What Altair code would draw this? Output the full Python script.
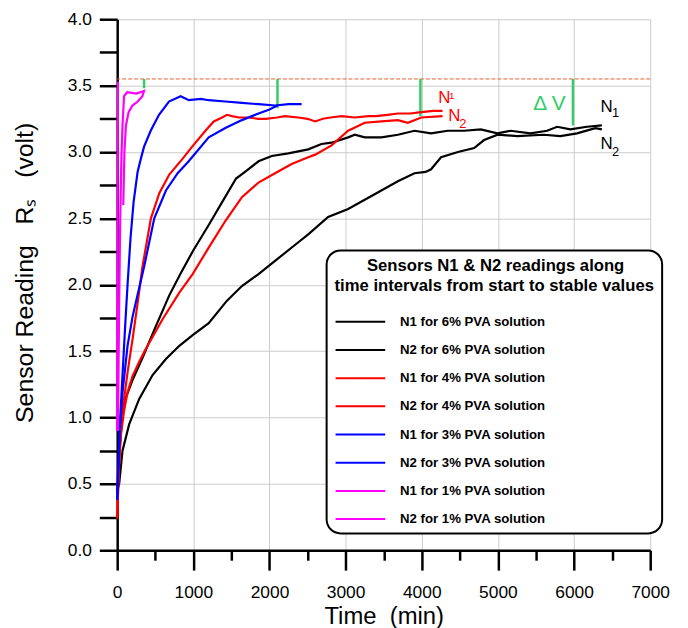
import altair as alt
import pandas as pd

# ---------------- data: time (min) vs sensor reading (volt) ----------------
n1_6_t = [0, 18, 30, 48, 80, 114, 200, 333, 487, 684, 838, 991, 1202, 1386, 1561, 1700, 1856, 2030, 2247, 2509, 2683,
          2815, 3033, 3120, 3251, 3469, 3686, 3904, 4122, 4340, 4558, 4775, 4993, 5167, 5428, 5646, 5777, 5951, 6169, 6365]
n1_6_v = [0.45, 0.50, 0.75, 0.90, 1.05, 1.15, 1.28, 1.45, 1.66, 1.92, 2.09, 2.25, 2.45, 2.63, 2.80, 2.86, 2.93, 2.97, 2.99, 3.02, 3.06,
          3.07, 3.11, 3.13, 3.11, 3.11, 3.13, 3.16, 3.14, 3.16, 3.16, 3.17, 3.14, 3.16, 3.14, 3.16, 3.19, 3.17, 3.19, 3.20]

n2_6_t = [0, 26, 70, 158, 289, 465, 640, 816, 991, 1202, 1442, 1638, 1856, 2073, 2379, 2509, 2770, 3033, 3251, 3469,
          3686, 3904, 4050, 4122, 4253, 4475, 4688, 4818, 4997, 5254, 5602, 5820, 6038, 6278, 6365]
n2_6_v = [0.45, 0.50, 0.75, 0.95, 1.14, 1.32, 1.44, 1.54, 1.62, 1.71, 1.88, 1.99, 2.08, 2.18, 2.32, 2.38, 2.51, 2.57, 2.64, 2.71,
          2.78, 2.84, 2.85, 2.87, 2.96, 3.00, 3.03, 3.09, 3.13, 3.12, 3.13, 3.12, 3.14, 3.18, 3.17]

n1_4_t = [0, 26, 70, 136, 202, 268, 333, 443, 553, 684, 860, 985, 1159, 1268, 1377, 1442, 1507, 1600, 1725, 1850,
          1950, 2100, 2200, 2379, 2500, 2600, 2700, 2800, 2950, 3120, 3300, 3400, 3550, 3686, 3850, 3993, 4150, 4272]
n1_4_v = [0.24, 0.70, 1.05, 1.34, 1.59, 1.86, 2.14, 2.50, 2.69, 2.83, 2.95, 3.04, 3.16, 3.23, 3.26, 3.28, 3.27, 3.26, 3.26, 3.25,
          3.25, 3.26, 3.27, 3.26, 3.25, 3.23, 3.25, 3.26, 3.27, 3.26, 3.27, 3.27, 3.28, 3.29, 3.29, 3.30, 3.31, 3.31]

n2_4_t = [0, 15, 45, 90, 136, 200, 289, 370, 596, 816, 991, 1202, 1420, 1638, 1856, 2073, 2291, 2509, 2600, 2815,
          3033, 3251, 3469, 3686, 3817, 3993, 4272]
n2_4_v = [0.24, 0.50, 0.85, 1.05, 1.19, 1.31, 1.42, 1.51, 1.74, 1.94, 2.08, 2.28, 2.48, 2.66, 2.77, 2.84, 2.91, 2.96, 2.98, 3.05,
          3.16, 3.22, 3.23, 3.24, 3.22, 3.26, 3.27]

n1_3_t = [0, 9, 35, 70, 105, 136, 175, 215, 268, 311, 353, 440, 549, 680, 833, 941, 1100, 1202, 1420, 1638, 1856, 2073, 2250, 2422]
n1_3_v = [0.38, 0.57, 0.95, 1.32, 1.69, 2.00, 2.35, 2.62, 2.85, 2.95, 3.04, 3.16, 3.28, 3.38, 3.42, 3.39, 3.40, 3.39, 3.38, 3.37,
          3.36, 3.35, 3.36, 3.36]

n2_3_t = [0, 35, 70, 136, 202, 246, 355, 487, 640, 794, 939, 1202, 1420, 1638, 1856, 2000, 2105]
n2_3_v = [0.38, 0.90, 1.19, 1.54, 1.76, 1.87, 2.14, 2.50, 2.71, 2.84, 2.93, 3.11, 3.18, 3.24, 3.29, 3.32, 3.35]

n1_1_t = [0, 4, 7, 10]
n1_1_v = [0.90, 2.00, 3.00, 3.53]

n2_1_t = [10, 25, 40, 55, 70, 90, 130, 250, 353, 330, 270, 200, 150, 115, 95, 80]
n2_1_v = [0.90, 1.80, 2.50, 2.95, 3.20, 3.42, 3.45, 3.44, 3.46, 3.42, 3.38, 3.35, 3.30, 3.20, 3.00, 2.60]

series_labels = ["N1 for 6% PVA solution", "N2 for 6% PVA solution",
                 "N1 for 4% PVA solution", "N2 for 4% PVA solution",
                 "N1 for 3% PVA solution", "N2 for 3% PVA solution",
                 "N1 for 1% PVA solution", "N2 for 1% PVA solution"]
series_colors = ["#000000", "#000000", "#ff0000", "#ff0000", "#0000ff", "#0000ff", "#ff00ff", "#ff00ff"]
series_t = [n1_6_t, n2_6_t, n1_4_t, n2_4_t, n1_3_t, n2_3_t, n1_1_t, n2_1_t]
series_v = [n1_6_v, n2_6_v, n1_4_v, n2_4_v, n1_3_v, n2_3_v, n1_1_v, n2_1_v]

legend_title = ["Sensors N1 & N2 readings along", "time intervals from start to stable values"]

# reference level (dashed) and delta-V markers
ref_level = [3.55]
dv_t = [353, 2105, 3982, 5985]
dv_low = [3.48, 3.33, 3.27, 3.20]

# annotations
red_txt = ["N", "1", "N", "2"]
red_txt_t = [4296, 4394, 4427, 4538]
red_txt_v = [3.41, 3.42, 3.27, 3.21]
red_txt_size = [17, 10, 17, 13]

blk_txt = ["N", "1", "N", "2"]
blk_txt_t = [6427, 6544, 6427, 6544]
blk_txt_v = [3.34, 3.29, 3.06, 3.00]
blk_txt_size = [17, 13, 17, 13]

dv_txt = ["Δ V"]
dv_txt_t = [5676]
dv_txt_v = [3.36]

x_ticks = [i * 500 for i in range(15)]
y_ticks = [i * 0.25 for i in range(17)]

# ---------------- build tables ----------------
rows = []
for lab, ts, vs in zip(series_labels, series_t, series_v):
    for i, (t, v) in enumerate(zip(ts, vs)):
        rows.append({"series": lab, "t": t, "v": v, "idx": i})
df_lines = pd.DataFrame(rows)
df_ref = pd.DataFrame({"v": ref_level})
df_dv = pd.DataFrame({"t": dv_t, "v": dv_low, "v2": [ref_level[0]] * len(dv_t)})
df_red = pd.DataFrame({"txt": red_txt, "t": red_txt_t, "v": red_txt_v, "s": red_txt_size})
df_blk = pd.DataFrame({"txt": blk_txt, "t": blk_txt_t, "v": blk_txt_v, "s": blk_txt_size})
df_dvt = pd.DataFrame({"txt": dv_txt, "t": dv_txt_t, "v": dv_txt_v})

FONT = "Liberation Sans"
NB = "\u00a0"
ZW = "\u200b"

xaxis = alt.Axis(
    title="Time" + NB * 2 + "(min)", values=x_ticks, format="d",
    labelExpr="datum.value % 1000 === 0 ? datum.label : ''",
    tickSize={"condition": {"test": "datum.value % 1000 === 0", "value": 20}, "value": 10},
    gridOpacity={"condition": {"test": "datum.value % 1000 === 0", "value": 1}, "value": 0},
    labelFontSize=17.5, titleFontSize=24, labelPadding=14, titlePadding=3, labelFlush=False,
)
yaxis = alt.Axis(
    title="Sensor Reading" + NB * 3 + "R\u209b" + NB * 3 + "(volt)", values=y_ticks, format=".1f",
    labelExpr="datum.value % 0.5 === 0 ? datum.label : ''",
    tickSize=18,
    gridOpacity={"condition": {"test": "datum.value % 0.5 === 0", "value": 1}, "value": 0},
    labelFontSize=17.5, titleFontSize=25, labelPadding=8, labelFlush=False,
    titleX=-93, titleY=255, titleAlign="center", titleBaseline="middle", titleAngle=270,
)

xs = alt.Scale(domain=[0, 7000], nice=False, zero=False)
ys = alt.Scale(domain=[0, 4], nice=False, zero=False)


def X(f="t:Q"):
    return alt.X(f, scale=xs, axis=xaxis)


def Y(f="v:Q"):
    return alt.Y(f, scale=ys, axis=yaxis)


legend = alt.Legend(
    orient="none", legendX=211, legendY=233,
    title=[ZW + NB * 7 + legend_title[0], legend_title[1]],
    titleFont=FONT, titleFontSize=16.8, titleFontWeight="bold", titleColor="black",
    titleAnchor="start", titleAlign="left", titleLineHeight=20, titlePadding=18, titleLimit=500,
    labelFont=FONT, labelFontSize=13.3, labelFontWeight="bold", labelColor="black", labelLimit=500,
    labelOffset=31,
    symbolType="M-3.125,0H3.125", symbolSize=256, symbolStrokeWidth=2, symbolOffset=17,
    rowPadding=12.4, padding=8, cornerRadius=14, strokeColor="black", fillColor="white",
)

lines = alt.Chart(df_lines).mark_line(strokeWidth=2.2).encode(
    x=X(), y=Y(),
    color=alt.Color("series:N", scale=alt.Scale(domain=series_labels, range=series_colors),
                    sort=series_labels, legend=legend),
    detail="series:N",
    order="idx:Q",
)

ref_rule = alt.Chart(df_ref).mark_rule(color="#e8602c", strokeWidth=1, strokeDash=[4, 2]).encode(y=Y())

dv_rules = alt.Chart(df_dv).mark_rule(color="#33cc66", strokeWidth=2.5).encode(x=X(), y=Y(), y2="v2:Q")

red_text = alt.Chart(df_red).mark_text(font=FONT, color="#ff0000", align="center", baseline="middle").encode(
    x=X(), y=Y(), text="txt:N", size=alt.Size("s:Q", scale=None, legend=None))
blk_text = alt.Chart(df_blk).mark_text(font=FONT, color="#000000", align="center", baseline="middle").encode(
    x=X(), y=Y(), text="txt:N", size=alt.Size("s:Q", scale=None, legend=None))
dv_text = alt.Chart(df_dvt).mark_text(font=FONT, color="#33cc66", fontSize=21, align="center", baseline="middle").encode(
    x=X(), y=Y(), text="txt:N")

chart = alt.layer(ref_rule, dv_rules, lines, red_text, blk_text, dv_text).properties(
    width=537, height=535,
    autosize=alt.AutoSizeParams(type="none"),
    padding={"left": 110, "top": 9, "right": 30, "bottom": 76},
    background="white",
).configure_view(stroke=None).configure_axis(
    labelFont=FONT, titleFont=FONT, labelColor="black", titleColor="black",
    titleFontWeight="normal", domainColor="black", domainWidth=2.5,
    tickColor="black", tickWidth=2.5, gridColor="#cccccc", gridWidth=1,
).configure_legend(strokeWidth=2)

chart.save("out.html", embed_options={"renderer": "svg", "actions": False})
